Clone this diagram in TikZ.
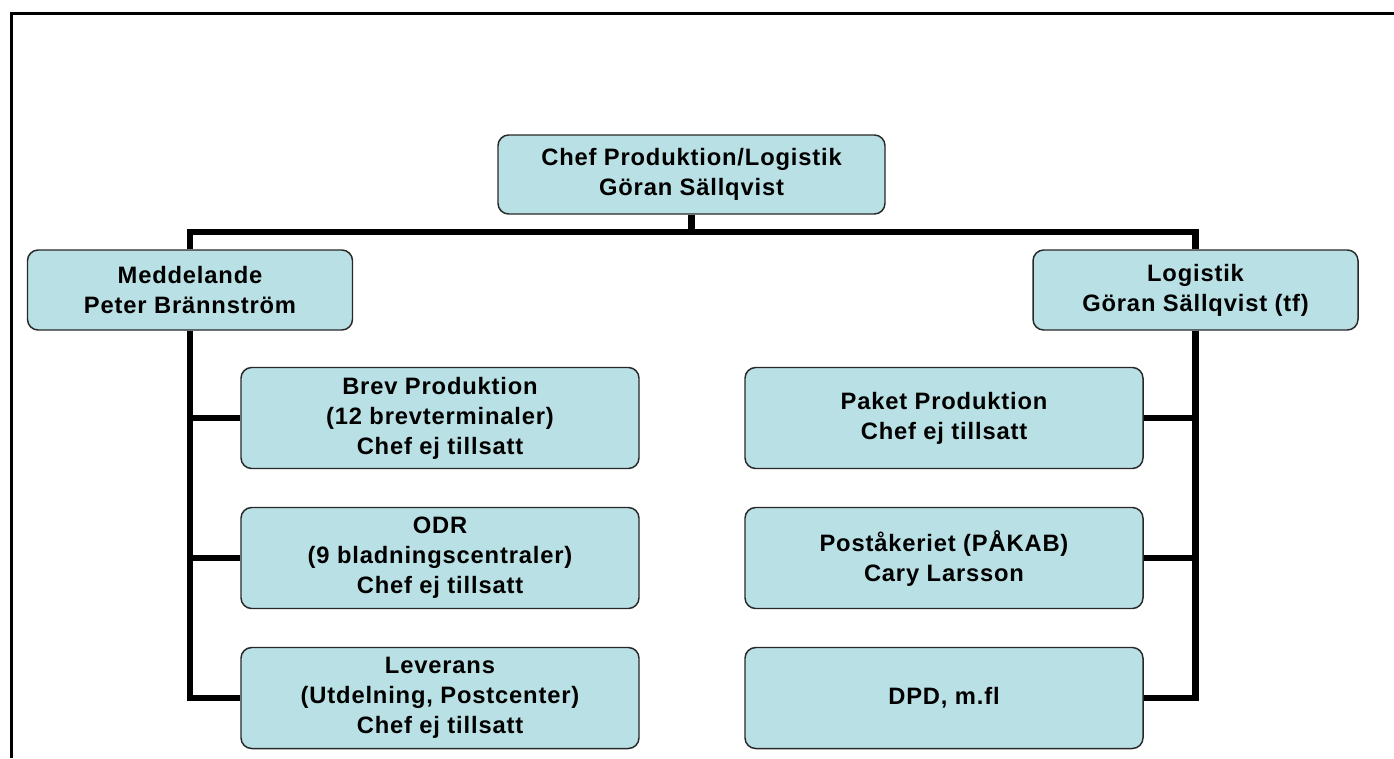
\documentclass[tikz,border=0pt]{standalone}
\usepackage{fontspec}
\setmainfont{Liberation Sans}[LetterSpace=3.5]
\definecolor{boxfill}{RGB}{185,224,228}
\definecolor{boxline}{RGB}{40,40,40}
\begin{document}
\begin{tikzpicture}[x=0.75pt,y=-0.75pt,
  unit/.style={draw=boxline,line width=1.1pt,fill=boxfill,rounded corners=8pt,
    align=center,inner sep=0pt,font=\fontsize{17.8pt}{22.5pt}\selectfont\bfseries},
  headbox/.style={unit,minimum width=387*0.75pt,minimum height=79*0.75pt},
  midbox/.style={unit,minimum width=325*0.75pt,minimum height=80*0.75pt},
  subbox/.style={unit,minimum width=398*0.75pt,minimum height=101*0.75pt},
  conn/.style={line width=5.2pt,line join=miter,line cap=butt},
  frame/.style={line width=2.4pt}]
\useasboundingbox (0,0) rectangle (1394,758);
\fill[white] (0,0) rectangle (1394,758);
\coordinate (fa) at (11.5,758);
\coordinate (fb) at (11.5,13.5);
\coordinate (fc) at (1394,13.5);
\draw[frame] (fa) -- (fb) -- (fc);
\coordinate (bar) at (0,232);

\node[headbox] (top) at (691.5,174.5) {Chef Produktion/Logistik\\Göran Sällqvist};
\node[midbox] (med) at (190,290) {Meddelande\\Peter Brännström};
\node[midbox] (log) at (1195.5,290) {Logistik\\Göran Sällqvist (tf)};
\node[subbox] (brev) at (440,418) {Brev Produktion\\(12 brevterminaler)\\Chef ej tillsatt};
\node[subbox] (odr) at (440,558) {ODR\\(9 bladningscentraler)\\Chef ej tillsatt};
\node[subbox] (lev) at (440,698) {Leverans\\(Utdelning, Postcenter)\\Chef ej tillsatt};
\node[subbox] (pak) at (944,418) {Paket Produktion\\Chef ej tillsatt};
\node[subbox] (pos) at (944,558) {Poståkeriet (PÅKAB)\\Cary Larsson};
\node[subbox] (dpd) at (944,698) {DPD, m.fl};

\draw[conn] (top.south) -- (top.south |- bar);
\draw[conn] (med.north) -- (med.north |- bar) -- (log.north |- bar) -- (log.north);
\draw[conn] (med.south) |- (lev.west);
\draw[conn] (med.south |- brev.west) -- (brev.west);
\draw[conn] (med.south |- odr.west) -- (odr.west);
\draw[conn] (log.south) |- (dpd.east);
\draw[conn] (log.south |- pak.east) -- (pak.east);
\draw[conn] (log.south |- pos.east) -- (pos.east);
\end{tikzpicture}
\end{document}
